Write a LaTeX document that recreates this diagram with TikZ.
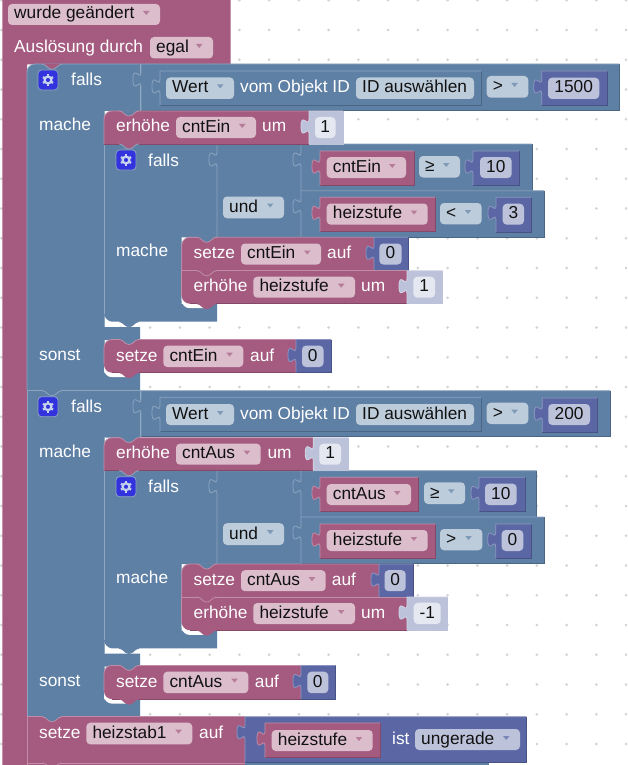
\documentclass[tikz,border=0pt]{standalone}
\usepackage{fontspec}
\setmainfont{Liberation Sans}
\definecolor{bpink}{HTML}{A55B80}\definecolor{bpinkL}{HTML}{C08CA6}\definecolor{bpinkD}{HTML}{844966}\definecolor{bpinkF}{HTML}{DBBDCC}
\definecolor{bblue}{HTML}{5F80A5}\definecolor{bblueL}{HTML}{8CA6C0}\definecolor{bblueD}{HTML}{496684}\definecolor{bblueF}{HTML}{BDCCDB}
\definecolor{bdark}{HTML}{5B67A5}\definecolor{bdarkL}{HTML}{8C95C0}\definecolor{bdarkD}{HTML}{495284}\definecolor{bdarkF}{HTML}{BDC2DB}
\definecolor{blite}{HTML}{BDC2DB}\definecolor{bliteL}{HTML}{D2D5E6}\definecolor{bliteD}{HTML}{BDC2DB}\definecolor{bliteF}{HTML}{E5E7F1}
\definecolor{griddot}{HTML}{D4D4D4}\definecolor{gearbox}{HTML}{3333DD}\definecolor{gearfg}{HTML}{C6D2EE}\definecolor{ink}{HTML}{111111}
\newcounter{nc}
\tikzset{
  lbl/.style={anchor=base west,inner sep=0pt,text=white,font=\fontsize{17.3}{20}\selectfont},
  fieldtext/.style={anchor=base west,inner sep=0pt,text=ink,font=\fontsize{17.3}{20}\selectfont},
  numtext/.style={anchor=base,inner sep=0pt,text=ink,font=\fontsize{17.3}{20}\selectfont},
  edge/.style={line width=0.8pt}
}
% text label
\newcommand\tx[3]{\stepcounter{nc}\node[lbl] (n\arabic{nc}) at (#1,#2) {#3};}
% value block with puzzle tab at left: x0 y0 x1 y1 colour
\newcommand\vb[5]{%
  \fill[#5] (#1,#2) -- (#3,#2) -- (#3,#4) -- (#1,#4) -- (#1,#2+23)
    .. controls (#1,#2+13) and (#1-8,#2+31) .. (#1-8,#2+15.5)
    .. controls (#1-8,#2+0) and (#1,#2+18) .. (#1,#2+8) -- cycle;
  \draw[edge,#5D] (#3,#2) -- (#3,#4) -- (#1,#4);
  \draw[edge,#5L] (#1,#4) -- (#1,#2+23)
    .. controls (#1,#2+13) and (#1-8,#2+31) .. (#1-8,#2+15.5)
    .. controls (#1-8,#2+0) and (#1,#2+18) .. (#1,#2+8) -- (#1,#2) -- (#3,#2);}
% statement block: x0 y0 x1 y1 top radius, bottom radius
\newcommand\stm[6]{%
  \fill[bpink] (#1,#2+#5) .. controls (#1,#2+.45*#5) and (#1+.45*#5,#2) .. (#1+#5,#2)
    -- (#3,#2) -- (#3,#4) -- (#1+#6,#4)
    .. controls (#1+.45*#6,#4) and (#1,#4-.45*#6) .. (#1,#4-#6) -- cycle;
  \draw[edge,bpinkD] (#1+#6,#4) -- (#3,#4);
  \draw[edge,bpinkL] (#1,#4-#6) -- (#1,#2+#5) .. controls (#1,#2+.45*#5) and (#1+.45*#5,#2) .. (#1+#5,#2) -- (#3,#2);}
% connection tab below a block: x0 y fill edge
\newcommand\tb[4]{%
  \fill[#3,rounded corners=1.5pt] (#1+14,#2-.6) -- (#1+17,#2) -- (#1+23,#2+5) -- (#1+27,#2+5) -- (#1+33,#2) -- (#1+36,#2-.6) -- cycle;
  \draw[edge,#4,rounded corners=1.5pt] (#1+15,#2) -- (#1+17,#2) -- (#1+23,#2+5) -- (#1+27,#2+5) -- (#1+33,#2) -- (#1+35,#2);}
% dropdown field: x0 y0 x1 y1 base colour text
\newcommand\fd[6]{%
  \fill[#5F,rounded corners=4pt] (#1,#2) rectangle (#3,#4);
  \fill[#5!80!white] (#3-17,#2+7) -- (#3-10.5,#2+7) -- (#3-13.75,#2+11) -- cycle;
  \stepcounter{nc}\node[fieldtext] (n\arabic{nc}) at (#1+6,#4-6) {#6};}
% centred number field
\newcommand\fc[6]{%
  \fill[#5F,rounded corners=4pt] (#1,#2) rectangle (#3,#4);
  \stepcounter{nc}\node[numtext] (n\arabic{nc}) at ({(#1+#3)/2},#4-6) {#6};}
% plain text field
\newcommand\fp[6]{%
  \fill[#5F,rounded corners=4pt] (#1,#2) rectangle (#3,#4);
  \stepcounter{nc}\node[fieldtext] (n\arabic{nc}) at (#1+6,#4-6) {#6};}
% white gap round a rounded bottom corner
\newcommand\gapc[3]{\fill[white,rounded corners=8pt] (#1,#2-14) -- (#1,#2+4.5) -- (#1+#3,#2+4.5) -- (#1+#3,#2-14) -- cycle;}
% gear button
\newcommand\gearbtn[2]{%
  \filldraw[fill=gearbox,draw=bblueL,line width=.8pt,rounded corners=3.5pt] (#1-10,#2-10) rectangle (#1+10,#2+10);
  \draw[gearfg,line width=2.2pt] (#1,#2) circle (3.4);
  \foreach \a in {30,90,...,330}{\draw[gearfg,line width=2.2pt] (#1,#2) ++(\a:4) -- ++(\a:1.8);}}
% outer if-block outline: top radius
\newcommand\ifframe[1]{%
  \fill[bblue] (27,64+#1) .. controls (27,64+.45*#1) and (27+.45*#1,64) .. (27+#1,64) -- (140.7,64) -- (140.7,111) -- (104,111) -- (104,327) -- (140,327) -- (140,340) -- (104,340) -- (104,372.7) -- (140,372.7) -- (140,390.2) -- (27,390.2) -- cycle;
  \draw[edge,bblueL] (27,390.2) -- (27,64+#1) .. controls (27,64+.45*#1) and (27+.45*#1,64) .. (27+#1,64) -- (140.7,64);
  \draw[edge,bblueL] (104,111) -- (104,327);
  \draw[edge,bblueL] (104,340) -- (104,360);
  \gearbtn{48}{80}
  \tx{71}{86}{falls}
  \tx{39}{131}{mache}
  \tx{39}{360}{sonst}}
% inner if-block outline
\newcommand\innerframe{%
  \fill[bblue] (104,144) -- (217,144) -- (217,237.3) -- (181.7,237.3) -- (181.7,304) -- (217,304) -- (217,321.7) -- (112,321.7) .. controls (108.4,321.7) and (104,317.3) .. (104,313.7) -- cycle;
  \draw[edge,bblueL] (104,313.7) -- (104,144) -- (217,144);
  \draw[edge,bblueL] (181.7,237.3) -- (181.7,304);
  \gearbtn{126}{160}
  \tx{148}{166}{falls}
  \tx{116}{256.7}{mache}}
\begin{document}
\begin{tikzpicture}[x=1pt,y=-1pt]
\useasboundingbox (0,0) rectangle (627,765);
\clip (0,0) rectangle (627,765);
\fill[white] (0,0) rectangle (627,765);
% workspace grid
\foreach \i in {0,...,21}{\foreach \j in {0,...,25}{\fill[griddot] ({1.4+29.75*\i},{0.25+29.75*\j}) circle (1.5);}}
% trigger block
\fill[bpink] (2.3,0) -- (230.5,0) -- (230.5,64.5) -- (27,64.5) -- (27,765) -- (2.3,765) -- cycle;
\fd{8}{4}{160}{25}{bpink}{wurde geändert}
\tx{14}{53}{Auslösung durch}
\fd{150}{37}{213}{58.5}{bpink}{egal}
% ---------- first if ----------
\ifframe{8}
\tb{27}{64.3}{bpink}{bblueL}
\vb{141}{64}{619.3}{110.7}{bblue}
\vb{160}{71}{481.7}{105.5}{bblue}
\fd{166}{77.5}{234}{99}{bblue}{Wert}
\tx{240}{92.7}{vom Objekt ID}
\fp{356}{77.5}{474}{99}{bblue}{ID auswählen}
\fd{486.7}{76}{528.3}{97.7}{bblue}{>}
\vb{541.7}{71}{607.7}{105}{bdark}
\fc{548}{77.7}{599.3}{99}{bdark}{1500}
\innerframe
\vb{217}{144}{301}{237.3}{bblue}
\fd{223}{196.5}{284}{218.3}{bblue}{und}
\vb{301}{144}{532}{190.7}{bblue}
\vb{320}{151}{414}{185}{bpink}
\fd{326.7}{157}{406}{178}{bpink}{cntEin}
\fd{419}{156}{460}{177.5}{bblue}{≥}
\vb{473}{151}{519}{185}{bdark}
\fc{480}{157}{511.7}{178}{bdark}{10}
\vb{301}{190.7}{544}{237}{bblue}
\vb{320}{197.3}{435.3}{231.7}{bpink}
\fd{326.7}{203.5}{427.7}{224.7}{bpink}{heizstufe}
\fd{440}{203}{481.7}{224.3}{bblue}{<}
\vb{496}{197.3}{531.7}{232}{bdark}
\fc{502.7}{203.7}{524}{224.7}{bdark}{3}
\stm{104}{111}{309}{144}{8}{0}
\tb{104}{111}{bblue}{bpinkL}
\tx{116}{131.5}{erhöhe}
\fd{176}{117}{256}{138}{bpink}{cntEin}
\tx{262}{131.5}{um}
\vb{309}{111}{343}{144}{blite}
\fc{315}{117}{335.5}{138}{blite}{1}
\tb{104}{144}{bpink}{bblueL}
\gapc{181.7}{303.7}{31}
\stm{181.7}{237.3}{374}{270.7}{8}{0}
\tb{181.7}{237.3}{bblue}{bpinkL}
\tx{193.5}{258.7}{setze}
\fd{241}{243.5}{321}{264.5}{bpink}{cntEin}
\tx{327}{258.7}{auf}
\vb{374}{237.3}{408}{270.7}{bdark}
\fc{379.3}{243.5}{401.7}{264.5}{bdark}{0}
\stm{181.7}{270.7}{407}{303.7}{0}{8}
\tb{181.7}{270.7}{bpink}{bpinkL}
\tx{193.5}{291.7}{erhöhe}
\fd{253.3}{276.7}{355}{297.7}{bpink}{heizstufe}
\tx{361}{291.7}{um}
\vb{407}{270.7}{442.3}{303.7}{blite}
\fc{413.3}{276.7}{435}{297.7}{blite}{1}
\tb{181.7}{303.7}{bpink}{bpink}
\tb{104}{321.7}{bblue}{bblue}
\gapc{104}{372.7}{29}
\stm{104}{339.5}{296}{372.7}{8}{8}
\tb{104}{339.5}{bblue}{bpinkL}
\tx{116}{361}{setze}
\fd{163.3}{345.6}{243.3}{367}{bpink}{cntEin}
\tx{250}{361}{auf}
\vb{296}{339.5}{331}{372.7}{bdark}
\fc{302}{345.6}{323.5}{367}{bdark}{0}
\tb{104}{372.7}{bpink}{bpink}
% ---------- second if ----------
\begin{scope}[yshift=-326.7pt]
\ifframe{0}
\tb{27}{64}{bblue}{bblueL}
\vb{141}{64}{610}{110}{bblue}
\vb{160}{70.6}{481.7}{105}{bblue}
\fd{166}{77.3}{234}{98.3}{bblue}{Wert}
\tx{240}{92.3}{vom Objekt ID}
\fp{356}{77.3}{474}{98.3}{bblue}{ID auswählen}
\fd{486.7}{76}{528.3}{97.3}{bblue}{>}
\vb{542.3}{71.3}{597.3}{105.3}{bdark}
\fc{548.3}{77.3}{590}{98.3}{bdark}{200}
\innerframe
\vb{217}{144}{301}{237.3}{bblue}
\fd{223}{196.5}{284}{218.3}{bblue}{und}
\vb{301}{144}{536.7}{190.3}{bblue}
\vb{320}{150.6}{418.3}{185}{bpink}
\fd{326.7}{157.3}{411}{178.3}{bpink}{cntAus}
\fd{424}{155.6}{465}{177.3}{bblue}{≥}
\vb{479}{150.6}{525}{185}{bdark}
\fc{485}{157}{516.7}{178.3}{bdark}{10}
\vb{301}{190.3}{544}{236.6}{bblue}
\vb{320}{197.3}{435.7}{231.6}{bpink}
\fd{326.7}{203.3}{427.7}{224.3}{bpink}{heizstufe}
\fd{440}{202.3}{482.3}{223.6}{bblue}{>}
\vb{495.7}{197.3}{531.7}{231.6}{bdark}
\fc{501.7}{203.3}{523.3}{224.3}{bdark}{0}
\stm{104}{111}{313.3}{144}{8}{0}
\tb{104}{111}{bblue}{bpinkL}
\tx{116}{131.5}{erhöhe}
\fd{176}{117}{260.7}{138}{bpink}{cntAus}
\tx{267.3}{131.5}{um}
\vb{313.3}{111}{348.3}{144}{blite}
\fc{319.3}{117}{341}{138}{blite}{1}
\tb{104}{144}{bpink}{bblueL}
\gapc{181.7}{303.7}{31}
\stm{181.7}{237.3}{379}{270.3}{8}{0}
\tb{181.7}{237.3}{bblue}{bpinkL}
\tx{193.5}{258.7}{setze}
\fd{241}{243.5}{325.7}{264.5}{bpink}{cntAus}
\tx{331.7}{258.7}{auf}
\vb{379}{237.3}{413.3}{270.3}{bdark}
\fc{384.5}{243.5}{405.7}{264.5}{bdark}{0}
\stm{181.7}{270.3}{407}{303.5}{0}{8}
\tb{181.7}{270.3}{bpink}{bpinkL}
\tx{193.5}{291.7}{erhöhe}
\fd{253.3}{276.3}{355}{297.3}{bpink}{heizstufe}
\tx{361}{291.7}{um}
\vb{407}{270.3}{447.7}{303.5}{blite}
\fc{413.7}{276}{440.7}{297.3}{blite}{-1}
\tb{181.7}{303.5}{bpink}{bpink}
\tb{104}{321.7}{bblue}{bblue}
\gapc{104}{372.4}{29}
\stm{104}{338.7}{301}{372.4}{8}{8}
\tb{104}{338.7}{bblue}{bpinkL}
\tx{116}{361}{setze}
\fd{163.3}{345}{248.3}{366.5}{bpink}{cntAus}
\tx{254.7}{361}{auf}
\vb{301}{338.7}{335.7}{372.4}{bdark}
\fc{307.3}{345}{328.3}{366.5}{bdark}{0}
\tb{104}{372.4}{bpink}{bpink}
\end{scope}
% ---------- last set block ----------
\fill[bpink] (27,716.8) rectangle (245,765);
\draw[edge,bpinkL] (27,716.8) -- (245,716.8);
\draw[edge,bpinkL] (27,762.9) -- (245,762.9);
\draw[edge,bpinkL] (27,716.8) -- (27,765);
\fill[bblue] (245,763.2) rectangle (489,765);
\tb{27}{716.8}{bblue}{bpinkL}
\tb{27}{762.9}{bpink}{bpinkL}
\tx{39}{738}{setze}
\fd{86.3}{722.7}{192.3}{744.3}{bpink}{heizstab1}
\tx{199}{738}{auf}
\vb{245}{716.7}{526.3}{762.7}{bdark}
\vb{265}{723}{380}{757.7}{bpink}
\fd{271.7}{730}{372.7}{751}{bpink}{heizstufe}
\tx{392}{744.5}{ist}
\fd{415}{729}{520}{750}{bdark}{ungerade}
\end{tikzpicture}
\end{document}
